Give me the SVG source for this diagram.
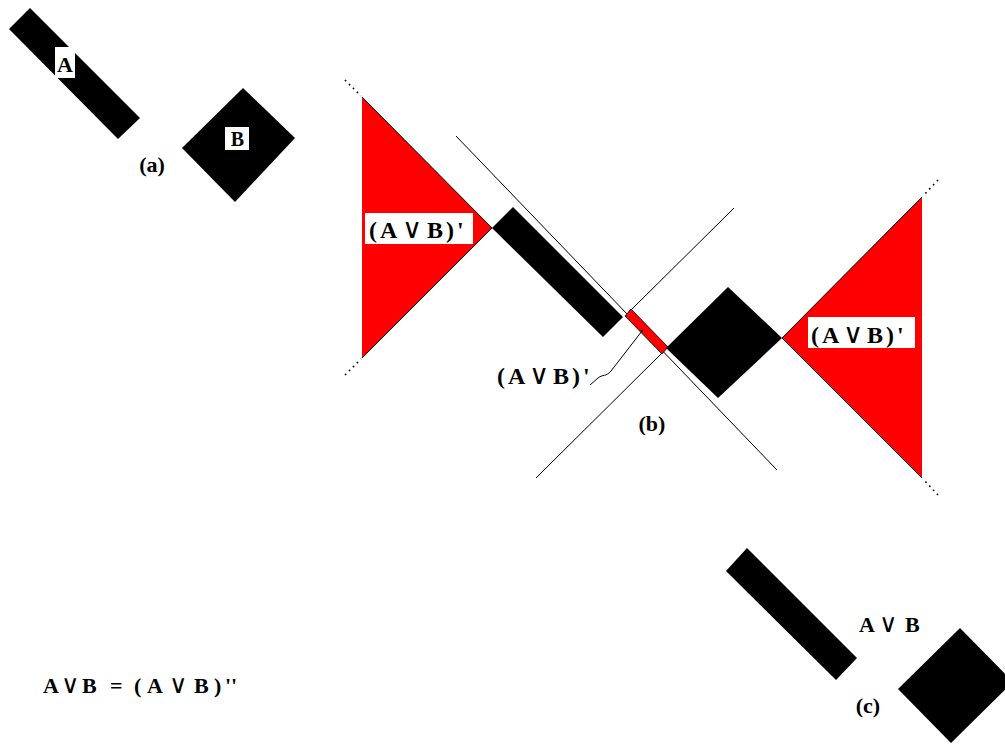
<svg xmlns="http://www.w3.org/2000/svg" width="1005" height="744" viewBox="0 0 1005 744">
<style>
.blk{fill:#000}
.red{fill:#ff0000}
.edge{fill:none;stroke:#000;stroke-width:1}
.ln{fill:none;stroke:#000;stroke-width:1}
.dot{fill:none;stroke:#000;stroke-width:1.6;stroke-dasharray:1.6 4}
.box{fill:#fff}
.t{font-family:"Liberation Serif","DejaVu Serif",serif;font-weight:bold;fill:#000}
.v{font-weight:normal;font-size:1.15em}
</style>
<rect width="1005" height="744" fill="#fff"/>

<g id="panel-a">
  <g id="barA">
    <polygon class="blk" points="30,8 9,29 118,139 140,118"/>
    <rect class="box" x="55" y="47" width="20" height="31"/>
    <text class="t" x="65" y="72" font-size="22" text-anchor="middle">A</text>
  </g>
  <g id="diamondB">
    <polygon class="blk" points="243,88 295,138 235,202 182,148"/>
    <rect class="box" x="225" y="127" width="24" height="23"/>
    <text class="t" x="237.5" y="146" font-size="20" text-anchor="middle">B</text>
  </g>
  <text id="label-a" class="t" x="152" y="172" font-size="22" text-anchor="middle">(a)</text>
</g>

<g id="connectors">
  <line class="ln" x1="456" y1="136" x2="777" y2="470"/>
  <line class="ln" x1="734" y1="208" x2="628" y2="313"/>
  <line class="ln" x1="662" y1="353" x2="536" y2="478"/>
  <path class="ln" d="M590,385 L598,378 C603,374 606,377 611,371 L642,331"/>
  <line class="dot" x1="345" y1="80" x2="361" y2="96"/>
  <line class="dot" x1="345" y1="375" x2="361" y2="359"/>
  <line class="dot" x1="938" y1="180" x2="923" y2="196"/>
  <line class="dot" x1="938" y1="495" x2="923" y2="479"/>
</g>

<g id="panel-b">
  <g id="triLeft">
    <polygon class="red" points="362,97 492,228 362,358"/>
    <polyline class="edge" points="362,97 492,228 362,358"/>
    <rect class="box" x="365" y="213" width="108" height="31"/>
    <text class="t" y="238" font-size="24"><tspan x="369">(</tspan><tspan x="380">A</tspan><tspan class="v" x="402">∨</tspan><tspan x="427">B</tspan><tspan x="446">)</tspan><tspan x="457">'</tspan></text>
  </g>
  <g id="barA-b">
    <polygon class="blk" points="492,228 513,207 623,317 603,337"/>
  </g>
  <g id="redBar">
    <polygon class="red" points="625,316 631,309 668,347 662,354" stroke="#000" stroke-width="0.8"/>
    <circle cx="642" cy="331" r="1.2" fill="#000"/>
  </g>
  <g id="diamondB-b">
    <polygon class="blk" points="728,287 782,338 718,398 666,348"/>
  </g>
  <g id="triRight">
    <polygon class="red" points="922,197 782,338 922,478"/>
    <polyline class="edge" points="922,197 782,338 922,478"/>
    <rect class="box" x="808" y="317" width="107" height="31"/>
    <text class="t" y="343" font-size="24"><tspan x="811">(</tspan><tspan x="822">A</tspan><tspan class="v" x="843">∨</tspan><tspan x="867">B</tspan><tspan x="886">)</tspan><tspan x="897">'</tspan></text>
  </g>
  <text id="label-mid" class="t" y="384" font-size="24"><tspan x="497">(</tspan><tspan x="508">A</tspan><tspan class="v" x="529">∨</tspan><tspan x="553">B</tspan><tspan x="572">)</tspan><tspan x="583">'</tspan></text>
  <text id="label-b" class="t" x="652" y="431" font-size="22" text-anchor="middle">(b)</text>
</g>

<g id="panel-c">
  <g id="barA-c">
    <polygon class="blk" points="747,548 726,571 836,680 857,658"/>
  </g>
  <g id="diamondB-c">
    <polygon class="blk" points="960,628 1013,682 951,743 898,689"/>
  </g>
  <text id="label-AvB" class="t" y="632" font-size="22"><tspan x="859">A</tspan><tspan class="v" x="879">∨</tspan><tspan x="905">B</tspan></text>
  <text id="label-c" class="t" x="868" y="713" font-size="22" text-anchor="middle">(c)</text>
</g>

<g id="formula">
  <text class="t" y="693" font-size="22"><tspan x="43">A</tspan><tspan class="v" x="61">∨</tspan><tspan x="82">B</tspan><tspan x="110">=</tspan><tspan x="134">(</tspan><tspan x="147">A</tspan><tspan class="v" x="169">∨</tspan><tspan x="194">B</tspan><tspan x="214">)</tspan><tspan x="225">''</tspan></text>
</g>
</svg>
